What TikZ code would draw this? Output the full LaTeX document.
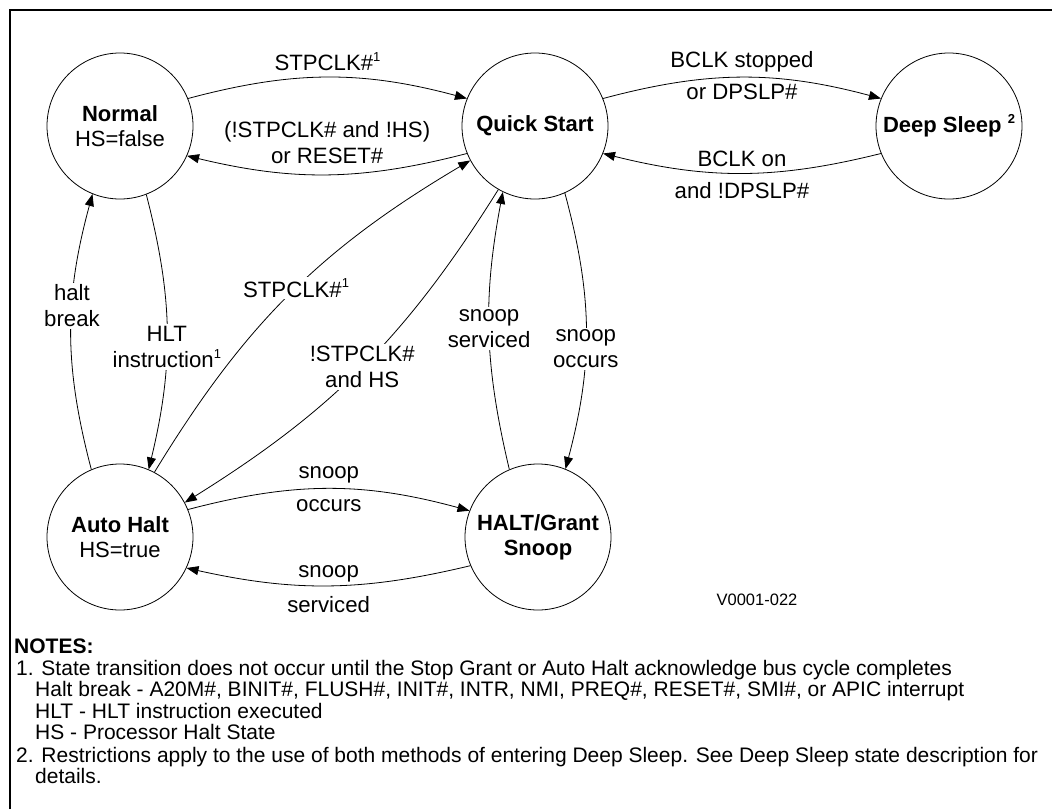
\documentclass[tikz,border=0pt]{standalone}
\usepackage{fontspec}
\setmainfont{Liberation Sans}
\usetikzlibrary{arrows.meta}
\newcommand{\supnum}[1]{\raisebox{0.42em}{\fontsize{13}{13}\selectfont #1}}

\begin{document}
\begin{tikzpicture}[x=1pt, y=1pt,
  state/.style={draw, circle, line width=0.8pt, minimum size=146pt, inner sep=0pt, align=center, font=\fontsize{22}{25}\selectfont},
  trans/.style={-{Triangle[length=12pt, width=9pt]}, line width=0.8pt},
  lbl/.style={font=\fontsize{22.2}{26}\selectfont, align=center, inner sep=2pt},
  cut/.style={lbl, fill=white},
]
  \useasboundingbox (0,0) rectangle (1052,-809);
  \draw[line width=2.2pt] (10,-809) -- (10,-10) -- (1052,-10);

  % states
  \node[state] (nrm) at (120,-126) {\textbf{Normal}\\HS=false};
  \node[state] (qs) at (535,-126) {\textbf{Quick Start}};
  \node[state] (ds) at (949,-126) {\textbf{Deep Sleep \supnum{2}}};
  \node[state] (ah) at (120,-537) {\textbf{Auto Halt}\\HS=true};
  \node[state] (hgs) at (538,-537) {\textbf{HALT/Grant}\\\textbf{Snoop}};

  % top row
  \draw[trans] (nrm.22) to[bend left=15] node[lbl, above=4pt] {STPCLK\#\supnum{1}} (qs.158);
  \draw[trans] (qs.202) to[bend left=14] node[lbl, above=8pt] {(!STPCLK\# and !HS)\\or RESET\#} (nrm.-24);
  \draw[trans] (qs.22) to[bend left=15] node[lbl, above=2.5pt] {BCLK stopped} node[lbl, below=4pt] {or DPSLP\#} (ds.158);
  \draw[trans] (ds.202) to[bend left=14] node[lbl, above=4pt] {BCLK on} node[lbl, below=7pt] {and !DPSLP\#} (qs.-22);

  % between the rows
  \draw[trans] (ah.113) to[bend left=15] node[cut, pos=0.6] {halt\\break} (nrm.248);
  \draw[trans] (nrm.291) to[bend left=14] node[cut, pos=0.56] {HLT\\instruction\supnum{1}} (ah.67);
  \draw[trans] (ah.62) to[bend left=14] node[cut, pos=0.52] {STPCLK\#\supnum{1}} (qs.208);
  \draw[trans] (qs.240) to[bend left=13] node[cut, pos=0.5] {!STPCLK\#\\and HS} (ah.28);
  \draw[trans] (hgs.113) to[bend left=12] node[cut, pos=0.51] {snoop\\serviced} (qs.244);
  \draw[trans] (qs.294) to[bend left=15] node[cut, pos=0.57] {snoop\\occurs} (hgs.68);

  % bottom row
  \draw[trans] (ah.22) to[bend left=15] node[lbl, above=3.5pt] {snoop} node[lbl, below=8pt] {occurs} (hgs.159);
  \draw[trans] (hgs.203) to[bend left=13] node[lbl, above=1.5pt] {snoop} node[lbl, below=8pt] {serviced} (ah.-25);

  \node[font=\fontsize{16.5}{19}\selectfont] (fig) at (757,-600) {V0001-022};

  % notes
  \node[anchor=north west, inner sep=0pt, align=left, font=\fontsize{21}{21.5}\selectfont] (notes) at (14,-639) {%
    \textbf{NOTES:}\\
    \hspace*{2pt}1. State transition does not occur until the Stop Grant or Auto Halt acknowledge bus cycle completes\\
    \hspace*{21pt}Halt break - A20M\#, BINIT\#, FLUSH\#, INIT\#, INTR, NMI, PREQ\#, RESET\#, SMI\#, or APIC interrupt\\
    \hspace*{21pt}HLT - HLT instruction executed\\
    \hspace*{21pt}HS - Processor Halt State\\[1pt]
    \hspace*{2pt}2. Restrictions apply to the use of both methods of entering Deep Sleep. See Deep Sleep state description for\\
    \hspace*{21pt}details.};
\end{tikzpicture}
\end{document}
